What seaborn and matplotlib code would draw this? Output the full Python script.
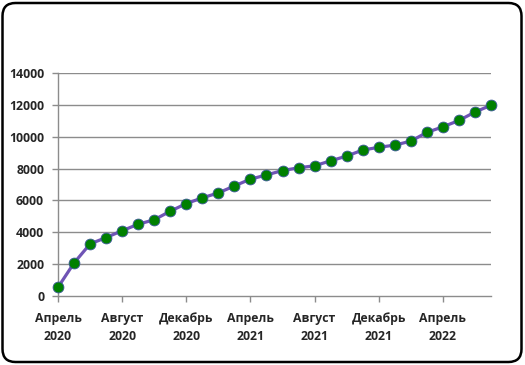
import matplotlib
matplotlib.use("Agg")
import pandas as pd
import matplotlib.pyplot as plt
import seaborn as sns
from matplotlib.patches import FancyBboxPatch

# ── Data: monthly values, April 2020 .. July 2022 ────────────────────────────
month_index = list(range(28))
values = [530, 2060, 3260, 3660, 4090, 4500, 4780, 5320, 5800, 6160,
          6470, 6910, 7340, 7600, 7880, 8050, 8180, 8490, 8790, 9170,
          9340, 9480, 9730, 10280, 10630, 11030, 11560, 11990]
tick_pos = [0, 4, 8, 12, 16, 20, 24]
tick_labels = ["Апрель\n2020", "Август\n2020", "Декабрь\n2020", "Апрель\n2021",
               "Август\n2021", "Декабрь\n2021", "Апрель\n2022"]
y_ticks = [0, 2000, 4000, 6000, 8000, 10000, 12000, 14000]

df = pd.DataFrame({"month": month_index, "value": values})

sns.set_theme(style="white")
plt.rcParams["font.family"] = ["Open Sans", "DejaVu Sans"]

fig = plt.figure(figsize=(5.25, 3.65), dpi=100)
ax = fig.add_axes([58 / 525, 1 - 295.7 / 365, (491 - 58) / 525, (295.7 - 73.3) / 365])

sns.lineplot(
    data=df, x="month", y="value", ax=ax,
    color="#6F54B5", linewidth=2.3, clip_on=False, zorder=3,
    marker="o", markersize=7.8,
    markerfacecolor="#008000", markeredgecolor="#3D5A9A", markeredgewidth=0.6,
)

ax.set_xlim(0, 27)
ax.set_ylim(0, 14000)
ax.set_yticks(y_ticks)
ax.set_yticklabels([str(v) for v in y_ticks], fontsize=8.8, fontweight="bold")
ax.set_xticks(tick_pos)
ax.set_xticklabels(tick_labels, fontsize=8.8, fontweight="bold", linespacing=1.45)
ax.set_xlabel("")
ax.set_ylabel("")

# grid + axes styling
for y in y_ticks[1:]:
    ax.axhline(y, color="#8C8C8C", linewidth=1.0, zorder=0)
for side in ["top", "right"]:
    ax.spines[side].set_visible(False)
ax.spines["left"].set_color("#8C8C8C")
ax.spines["bottom"].set_color("#8C8C8C")
ax.spines["left"].set_linewidth(1.0)
ax.spines["bottom"].set_linewidth(1.0)
ax.tick_params(axis="both", direction="out", length=4, width=1.0, color="#8C8C8C",
               bottom=True, left=True)
ax.tick_params(axis="y", pad=6)
ax.tick_params(axis="x", pad=8)

# rounded outer frame
frame = FancyBboxPatch((0.025, 0.03), 5.19, 3.59,
                       boxstyle="round,pad=0,rounding_size=0.13",
                       transform=fig.dpi_scale_trans, fill=False,
                       edgecolor="black", linewidth=1.8)
fig.patches.append(frame)

fig.savefig("out.png", dpi=100)
